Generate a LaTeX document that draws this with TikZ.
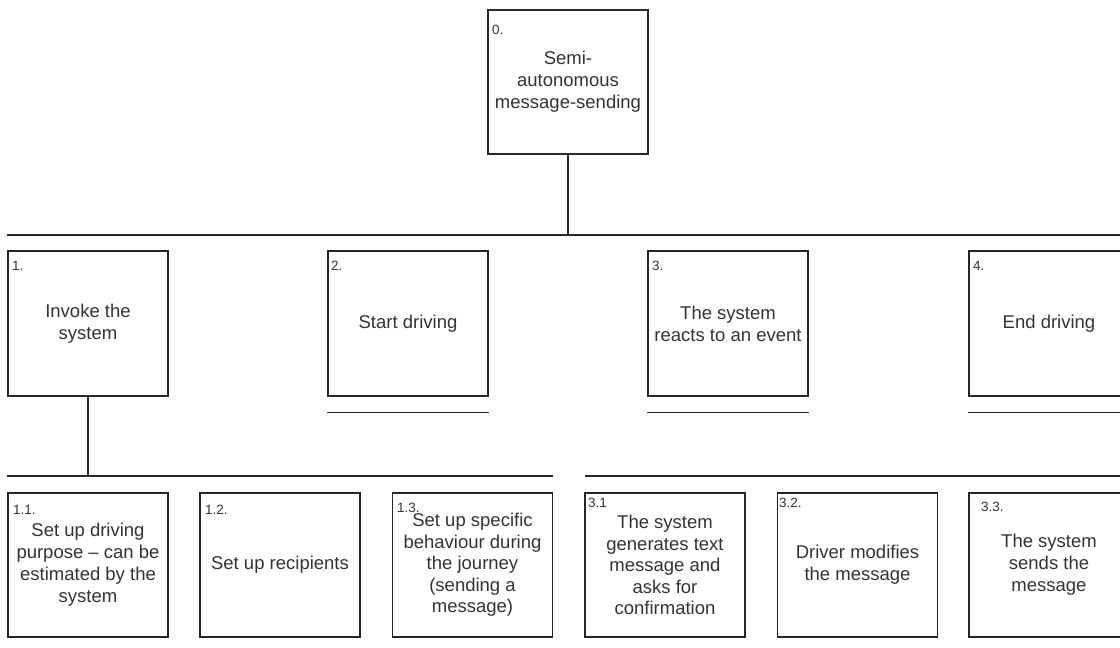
\documentclass[tikz,border=0pt]{standalone}
\usepackage{fontspec}
\setmainfont{Liberation Sans}

\begin{document}
\begin{tikzpicture}[x=1pt,y=-1pt]
    \tikzstyle{task}=[draw=black!85, line width=1.2pt, minimum width=160pt, minimum height=144pt, inner sep=0pt, align=center, text=black!80, font=\fontsize{18.5}{22}\selectfont]
    \tikzstyle{num}=[anchor=west, inner sep=0pt, text=black!80, font=\fontsize{13.5}{15}\selectfont]
    \tikzstyle{bus}=[draw=black!85, line width=1.2pt]

    \useasboundingbox (0,0) rectangle (1120,648);
    \clip (0,0) rectangle (1120,648);

    % root
    \node[task] (n0) at (568,82) {Semi-\\autonomous\\message-sending};
    \node[num] (l0) at (492,30) {0.};

    % first level
    \node[task, minimum height=145pt] (n1) at (88,323.5) {Invoke the\\system};
    \node[task, minimum height=145pt] (n2) at (408,323.5) {Start driving};
    \node[task, minimum height=145pt] (n3) at (728,323.5) {The system\\reacts to an event};
    \node[task, minimum height=145pt] (n4) at (1049,323.5) {End driving};

    \node[num] (l1) at (12,266) {1.};
    \node[num] (l2) at (331,266) {2.};
    \node[num] (l3) at (652,266) {3.};
    \node[num] (l4) at (973,266) {4.};

    % second level
    \node[task] (n11) at (88,565) {Set up driving\\purpose -- can be\\estimated by the\\system};
    \node[task] (n12) at (280,565) {Set up recipients};
    \node[task, font=\fontsize{18.5}{21.5}\selectfont] (n13) at (472.5,565) {Set up specific\\behaviour during\\the journey\\(sending a\\message)};
    \node[task, font=\fontsize{18.5}{21.5}\selectfont] (n31) at (665,565) {The system\\generates text\\message and\\asks for\\confirmation};
    \node[task] (n32) at (857.5,565) {Driver modifies\\the message};
    \node[task] (n33) at (1049,565) {The system\\sends the\\message};

    \node[num] (l11) at (13,510) {1.1.};
    \node[num] (l12) at (205,510) {1.2.};
    \node[num] (l13) at (397,508) {1.3.};
    \node[num] (l31) at (588,503) {3.1};
    \node[num] (l32) at (779,503) {3.2.};
    \node[num] (l33) at (981,507) {3.3.};

    % bus lines
    \coordinate (b1w) at (7,235);
    \coordinate (b1e) at (1125,235);
    \coordinate (b2w) at (7,476);
    \coordinate (b2e) at (553,476);
    \coordinate (b3w) at (585,476);
    \coordinate (b3e) at (1125,476);

    \draw[bus] (b1w) -- (b1e);
    \draw[bus] (b2w) -- (b2e);
    \draw[bus] (b3w) -- (b3e);

    \draw[bus] (n0.south) -- (n0.south |- b1w);
    \draw[bus] (n1.south) -- (n1.south |- b2w);

    % open ends under the other steps
    \foreach \n in {n2,n3,n4}
        \draw[bus] ([yshift=-16pt]\n.south west) -- ([yshift=-16pt]\n.south east);

\end{tikzpicture}
\end{document}
